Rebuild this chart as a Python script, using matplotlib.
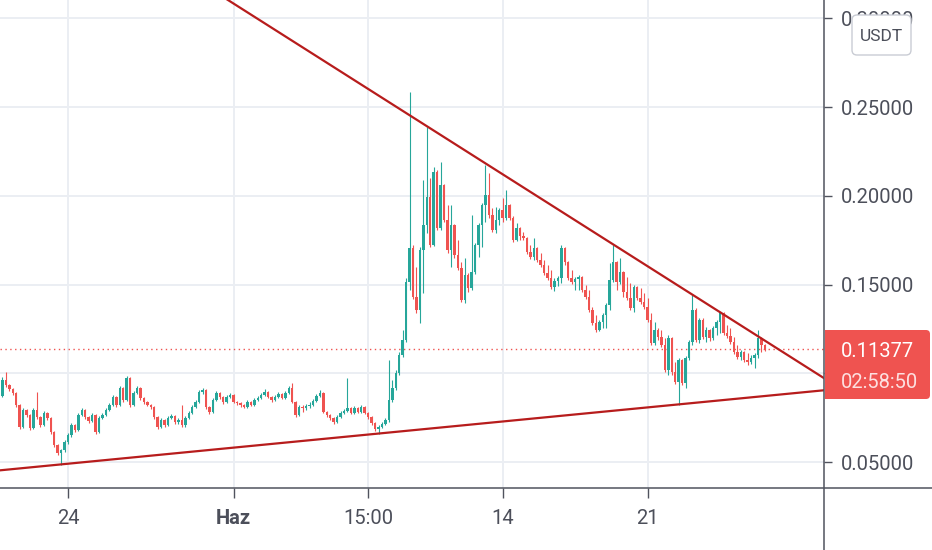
import matplotlib
matplotlib.use('Agg')
import matplotlib.pyplot as plt
from matplotlib import font_manager
from matplotlib.patches import FancyBboxPatch, Rectangle
from matplotlib.lines import Line2D
from matplotlib.transforms import Affine2D
import numpy as np

# ---------------- data (4h candles, price in USDT) ----------------
OPEN0 = 0.0973
CLOSE = [
    0.0872, 0.0962, 0.0934, 0.0911, 0.0889, 0.0821, 0.0697, 0.0793, 0.0765, 0.0692,
    0.0793, 0.0754, 0.0709, 0.0776, 0.0748, 0.0669, 0.0596, 0.0551, 0.0568, 0.0613,
    0.0652, 0.0709, 0.0680, 0.0765, 0.0793, 0.0754, 0.0731, 0.0765, 0.0669, 0.0748,
    0.0765, 0.0793, 0.0821, 0.0866, 0.0821, 0.0917, 0.0849, 0.0973, 0.0821, 0.0889,
    0.0917, 0.0861, 0.0838, 0.0821, 0.0810, 0.0754, 0.0697, 0.0737, 0.0709, 0.0748,
    0.0759, 0.0725, 0.0737, 0.0709, 0.0748, 0.0776, 0.0810, 0.0838, 0.0894, 0.0906,
    0.0810, 0.0782, 0.0849, 0.0889, 0.0866, 0.0838, 0.0866, 0.0878, 0.0838, 0.0832,
    0.0821, 0.0810, 0.0838, 0.0821, 0.0849, 0.0861, 0.0878, 0.0894, 0.0866, 0.0849,
    0.0866, 0.0883, 0.0861, 0.0889, 0.0917, 0.0838, 0.0765, 0.0810, 0.0804, 0.0816,
    0.0821, 0.0844, 0.0872, 0.0889, 0.0782, 0.0765, 0.0748, 0.0725, 0.0754, 0.0776,
    0.0787, 0.0804, 0.0776, 0.0804, 0.0782, 0.0810, 0.0776, 0.0754, 0.0720, 0.0686,
    0.0697, 0.0714, 0.0737, 0.0849, 0.0917, 0.1001, 0.1103, 0.1187, 0.1514, 0.1706,
    0.1430, 0.1356, 0.1695, 0.1835, 0.1993, 0.1723, 0.2134, 0.1818, 0.2061, 0.1864,
    0.1695, 0.1835, 0.1666, 0.1593, 0.1413, 0.1554, 0.1480, 0.1571, 0.1723, 0.1835,
    0.1948, 0.2004, 0.1892, 0.1807, 0.1864, 0.1920, 0.1875, 0.1948, 0.1875, 0.1751,
    0.1818, 0.1773, 0.1762, 0.1683, 0.1655, 0.1706, 0.1638, 0.1610, 0.1565, 0.1537,
    0.1486, 0.1520, 0.1537, 0.1706, 0.1627, 0.1537, 0.1514, 0.1531, 0.1542, 0.1469,
    0.1430, 0.1356, 0.1283, 0.1244, 0.1289, 0.1328, 0.1385, 0.1525, 0.1627, 0.1514,
    0.1571, 0.1458, 0.1424, 0.1368, 0.1486, 0.1424, 0.1402, 0.1373, 0.1300, 0.1171,
    0.1244, 0.1204, 0.1159, 0.1018, 0.1199, 0.1007, 0.0951, 0.1075, 0.0945, 0.1086,
    0.1176, 0.1356, 0.1187, 0.1300, 0.1204, 0.1244, 0.1199, 0.1255, 0.1289, 0.1339,
    0.1227, 0.1210, 0.1176, 0.1120, 0.1092, 0.1120, 0.1075, 0.1063, 0.1086, 0.1103,
    0.1199, 0.1159, 0.11377,
]
HIGH = [
    0.0996, 0.0979, 0.1007, 0.0940, 0.0917, 0.0894, 0.0827, 0.0804, 0.0799, 0.0771,
    0.0804, 0.0894, 0.0759, 0.0787, 0.0782, 0.0754, 0.0675, 0.0602, 0.0573, 0.0624,
    0.0663, 0.0720, 0.0714, 0.0776, 0.0804, 0.0799, 0.0759, 0.0776, 0.0771, 0.0759,
    0.0776, 0.0804, 0.0832, 0.0878, 0.0872, 0.0928, 0.0923, 0.0985, 0.0979, 0.0900,
    0.0928, 0.0923, 0.0866, 0.0844, 0.0827, 0.0816, 0.0759, 0.0748, 0.0742, 0.0759,
    0.0771, 0.0765, 0.0748, 0.0821, 0.0759, 0.0787, 0.0821, 0.0849, 0.0906, 0.0917,
    0.0911, 0.0816, 0.0861, 0.0900, 0.0894, 0.0872, 0.0878, 0.0889, 0.0883, 0.0844,
    0.0838, 0.0827, 0.0849, 0.0844, 0.0861, 0.0872, 0.0889, 0.0911, 0.0900, 0.0872,
    0.0878, 0.0894, 0.0889, 0.0900, 0.0928, 0.0945, 0.0844, 0.0821, 0.0821, 0.0827,
    0.0838, 0.0855, 0.0883, 0.0906, 0.0894, 0.0787, 0.0771, 0.0754, 0.0765, 0.0787,
    0.0799, 0.0973, 0.0810, 0.0816, 0.0810, 0.0821, 0.0816, 0.0782, 0.0759, 0.0725,
    0.0709, 0.0725, 0.0748, 0.1075, 0.0962, 0.1018, 0.1120, 0.1244, 0.1537, 0.2585,
    0.1723, 0.1599, 0.1711, 0.2089, 0.2387, 0.2100, 0.2162, 0.2145, 0.2190, 0.2067,
    0.1948, 0.1948, 0.1841, 0.1751, 0.1627, 0.1650, 0.1565, 0.1892, 0.1734, 0.1847,
    0.1959, 0.2173, 0.2128, 0.1931, 0.1937, 0.1931, 0.1987, 0.2033, 0.1954, 0.1886,
    0.1847, 0.1824, 0.1796, 0.1768, 0.1723, 0.1762, 0.1711, 0.1678, 0.1638, 0.1610,
    0.1582, 0.1537, 0.1548, 0.1723, 0.1711, 0.1633, 0.1582, 0.1542, 0.1554, 0.1548,
    0.1497, 0.1469, 0.1373, 0.1328, 0.1300, 0.1339, 0.1396, 0.1621, 0.1723, 0.1633,
    0.1650, 0.1577, 0.1542, 0.1509, 0.1497, 0.1492, 0.1480, 0.1452, 0.1424, 0.1339,
    0.1289, 0.1255, 0.1244, 0.1199, 0.1216, 0.1204, 0.1063, 0.1086, 0.1080, 0.1097,
    0.1187, 0.1441, 0.1368, 0.1311, 0.1311, 0.1261, 0.1250, 0.1266, 0.1300, 0.1345,
    0.1345, 0.1272, 0.1255, 0.1204, 0.1159, 0.1131, 0.1126, 0.1114, 0.1103, 0.1114,
    0.1244, 0.1204, 0.1165,
]
LOW = [
    0.0861, 0.0866, 0.0923, 0.0900, 0.0878, 0.0810, 0.0686, 0.0692, 0.0754, 0.0680,
    0.0686, 0.0742, 0.0697, 0.0703, 0.0737, 0.0658, 0.0585, 0.0540, 0.0483, 0.0556,
    0.0602, 0.0641, 0.0669, 0.0675, 0.0759, 0.0742, 0.0720, 0.0725, 0.0658, 0.0663,
    0.0742, 0.0759, 0.0787, 0.0816, 0.0810, 0.0816, 0.0838, 0.0844, 0.0810, 0.0816,
    0.0883, 0.0849, 0.0827, 0.0816, 0.0799, 0.0742, 0.0686, 0.0692, 0.0697, 0.0703,
    0.0742, 0.0714, 0.0714, 0.0697, 0.0697, 0.0742, 0.0771, 0.0804, 0.0832, 0.0883,
    0.0799, 0.0771, 0.0776, 0.0844, 0.0855, 0.0827, 0.0832, 0.0861, 0.0832, 0.0821,
    0.0810, 0.0804, 0.0804, 0.0816, 0.0816, 0.0844, 0.0855, 0.0872, 0.0861, 0.0838,
    0.0844, 0.0861, 0.0855, 0.0855, 0.0883, 0.0832, 0.0754, 0.0759, 0.0782, 0.0793,
    0.0804, 0.0816, 0.0838, 0.0866, 0.0776, 0.0754, 0.0737, 0.0714, 0.0720, 0.0748,
    0.0771, 0.0782, 0.0771, 0.0771, 0.0776, 0.0776, 0.0771, 0.0742, 0.0709, 0.0675,
    0.0658, 0.0692, 0.0709, 0.0725, 0.0838, 0.0906, 0.0990, 0.1092, 0.1176, 0.1469,
    0.1419, 0.1339, 0.1283, 0.1452, 0.1790, 0.1711, 0.1717, 0.1807, 0.1807, 0.1852,
    0.1678, 0.1599, 0.1649, 0.1582, 0.1402, 0.1396, 0.1458, 0.1469, 0.1560, 0.1655,
    0.1711, 0.1852, 0.1875, 0.1796, 0.1790, 0.1835, 0.1852, 0.1864, 0.1864, 0.1740,
    0.1745, 0.1751, 0.1751, 0.1672, 0.1644, 0.1638, 0.1627, 0.1599, 0.1554, 0.1525,
    0.1475, 0.1464, 0.1492, 0.1509, 0.1610, 0.1525, 0.1503, 0.1469, 0.1469, 0.1458,
    0.1419, 0.1345, 0.1272, 0.1233, 0.1238, 0.1255, 0.1255, 0.1356, 0.1514, 0.1469,
    0.1503, 0.1430, 0.1413, 0.1356, 0.1345, 0.1413, 0.1390, 0.1362, 0.1289, 0.1159,
    0.1159, 0.1187, 0.1148, 0.1007, 0.0990, 0.0990, 0.0940, 0.0821, 0.0934, 0.0917,
    0.1075, 0.1159, 0.1176, 0.1171, 0.1193, 0.1176, 0.1182, 0.1187, 0.1216, 0.1227,
    0.1216, 0.1199, 0.1165, 0.1108, 0.1080, 0.1075, 0.1063, 0.1047, 0.1052, 0.1030,
    0.1086, 0.1120, 0.1126,
]
LAST_PRICE = 0.11377
COUNTDOWN = "02:58:50"
CURRENCY = "USDT"

# x tick labels (candle index of each date label)
XTICK_POS = [20, 68, 107, 146, 188]
XTICK_LAB = ["24", "Haz", "15:00", "14", "21"]
YTICKS = [0.05, 0.10, 0.15, 0.20, 0.25, 0.30]
YTICK_HIDDEN = [0.10]   # label covered by the last-price tag

# trend-line anchors (candle index, price)
UPPER_LINE = [(119, 0.2454), (222, 0.1184)]
LOWER_LINE = [(18, 0.0487), (197, 0.0825)]

# ---------------- style ----------------
UP = '#26a69a'
DOWN = '#ef5350'
TREND = '#b71c1c'
GRID = '#ebeef3'
AXC = '#50535e'
TXT = '#4c4f5a'

names = {f.name for f in font_manager.fontManager.ttflist}
if 'Liberation Sans Narrow' in names:
    FONT = ['Liberation Sans Narrow', 'DejaVu Sans']
    FS = 17
else:
    FONT = ['Roboto', 'DejaVu Sans']
    FS = 14.5
plt.rcParams['font.family'] = FONT

W, H = 932, 550
fig = plt.figure(figsize=(W / 100, H / 100), dpi=100)
fig.patch.set_facecolor('white')
AX_RIGHT = 824
AX_BOTTOM = 488
ax = fig.add_axes([0, (H - AX_BOTTOM) / H, AX_RIGHT / W, AX_BOTTOM / H])
ax.set_facecolor('white')

n = len(CLOSE)
opens = [OPEN0] + CLOSE[:-1]
for i in range(n):
    o, c, hi, lo = opens[i], CLOSE[i], HIGH[i], LOW[i]
    col = UP if c >= o else DOWN
    ax.vlines(i, lo, hi, color=col, lw=0.8, zorder=3)
    bottom = min(o, c)
    height = max(abs(c - o), 0.0006)
    ax.bar(i, height, bottom=bottom, width=0.7, color=col, linewidth=0, zorder=4)

XMIN, XMAX = 0.29, 239.13
YMIN, YMAX = 0.0354, 0.3103
ax.set_xlim(XMIN, XMAX)
ax.set_ylim(YMIN, YMAX)


def draw_trend(pts):
    (x1, y1), (x2, y2) = pts
    k = (y2 - y1) / (x2 - x1)
    xa, xb = -5, 260
    ax.plot([xa, xb], [y1 + k * (xa - x1), y1 + k * (xb - x1)], color=TREND,
            lw=1.6, zorder=6, solid_capstyle='butt')


draw_trend(UPPER_LINE)
draw_trend(LOWER_LINE)

# last price dotted line
ax.axhline(LAST_PRICE, color=DOWN, lw=1.0, ls=(0, (1, 2.5)), zorder=2)

# grid & ticks
ax.set_yticks(YTICKS)
ax.set_yticklabels(["" if v in YTICK_HIDDEN else f"{v:.5f}" for v in YTICKS])
ax.set_xticks(XTICK_POS)
ax.set_xticklabels(XTICK_LAB)
ax.grid(True, color=GRID, lw=1.4, zorder=0)
ax.set_axisbelow(True)
ax.yaxis.tick_right()
for s in ax.spines.values():
    s.set_visible(False)
ax.tick_params(axis='y', direction='out', length=6, width=1, color=AXC,
               pad=6, labelsize=FS, labelcolor=TXT)
ax.tick_params(axis='x', direction='out', length=7, width=1, color=AXC,
               pad=8, labelsize=FS, labelcolor=TXT)
ax.get_xticklabels()[1].set_fontweight('bold')

# axis lines spanning the whole figure
fig.add_artist(Line2D([0, 1], [(H - AX_BOTTOM) / H] * 2, transform=fig.transFigure,
                      color=AXC, lw=1.1, zorder=5))
fig.add_artist(Line2D([AX_RIGHT / W] * 2, [0, 1], transform=fig.transFigure,
                      color=AXC, lw=1.1, zorder=5))

# pixel transform (origin top-left)
pix = Affine2D().scale(1 / W, -1 / H).translate(0, 1) + fig.transFigure

# last price label
fig.add_artist(FancyBboxPatch((825, 330), 105, 69, boxstyle='round,pad=0,rounding_size=4',
                              transform=pix, fc=DOWN, ec='none', zorder=7))
fig.add_artist(Rectangle((825, 330), 10, 69, transform=pix, fc=DOWN, ec='none', zorder=7))
fig.text(841, 349.5, f"{LAST_PRICE:.5f}", transform=pix, color='white', fontsize=FS,
         ha='left', va='center_baseline', zorder=8)
fig.text(841, 381, COUNTDOWN, transform=pix, color='#fde0e0', fontsize=FS,
         ha='left', va='center_baseline', zorder=8)

# currency box
fig.add_artist(FancyBboxPatch((852, 15), 59, 40, boxstyle='round,pad=0,rounding_size=5',
                              transform=pix, fc='white', ec='#c9ccd4', lw=1.0, zorder=7))
fig.text(881.5, 35, CURRENCY, transform=pix, color=TXT, fontsize=FS - 2,
         ha='center', va='center_baseline', zorder=8)

fig.savefig('out.png', dpi=100, facecolor='white')
